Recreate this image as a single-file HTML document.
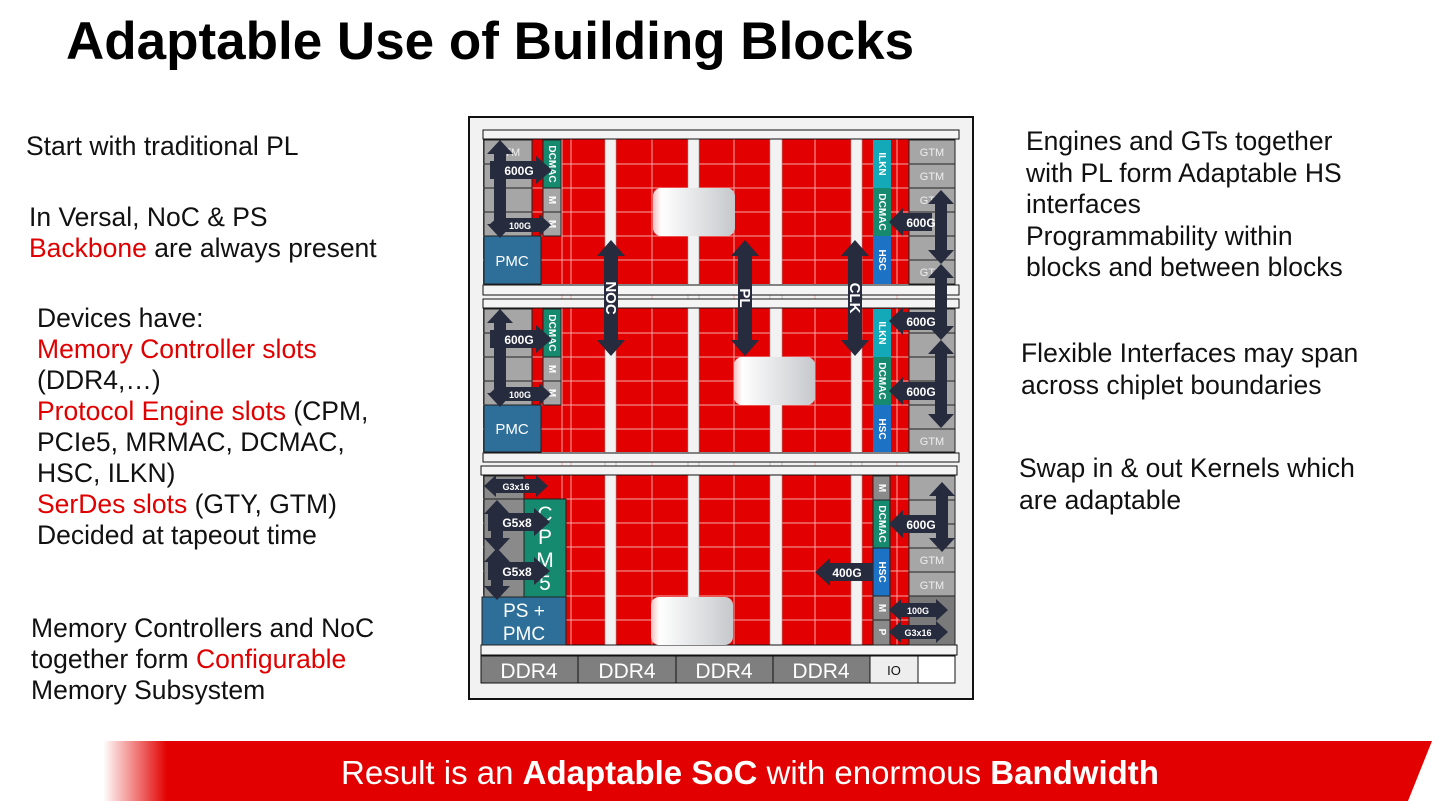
<!DOCTYPE html>
<html><head><meta charset="utf-8"><style>
body{margin:0;width:1442px;height:804px;background:#fff;position:relative;overflow:hidden;font-family:"Liberation Sans",Arial,sans-serif}
.t{position:absolute;white-space:nowrap;font-size:26.5px;color:#111;line-height:31px}
.r{color:#e00000}
h1{position:absolute;left:66px;top:10px;margin:0;font-size:53px;font-weight:bold;color:#000;line-height:64px}
</style></head><body>
<h1>Adaptable Use of Building Blocks</h1>
<div class="t" style="left:26px;top:131px">Start with traditional PL</div>
<div class="t" style="left:29px;top:202px">In Versal, NoC &amp; PS<br><span class="r">Backbone</span> are always present</div>
<div class="t" style="left:37px;top:303px">Devices have:<br><span class="r">Memory Controller slots</span><br>(DDR4,…)<br><span class="r">Protocol Engine slots</span> (CPM,<br>PCIe5, MRMAC, DCMAC,<br>HSC, ILKN)<br><span class="r">SerDes slots</span> (GTY, GTM)<br>Decided at tapeout time</div>
<div class="t" style="left:31px;top:613px">Memory Controllers and NoC<br>together form <span class="r">Configurable</span><br>Memory Subsystem</div>
<div class="t" style="left:1026px;top:126px;line-height:31.5px">Engines and GTs together<br>with PL form Adaptable HS<br>interfaces<br>Programmability within<br>blocks and between blocks</div>
<div class="t" style="left:1021px;top:337px;line-height:32px">Flexible Interfaces may span<br>across chiplet boundaries</div>
<div class="t" style="left:1019px;top:452px;line-height:32px">Swap in &amp; out Kernels which<br>are adaptable</div>

<svg width="1442" height="804" style="position:absolute;left:0;top:0" font-family="Liberation Sans,Arial,sans-serif">
<defs>
<linearGradient id="fade" x1="0" x2="1"><stop offset="0" stop-color="#fff"/><stop offset="1" stop-color="#e30000"/></linearGradient>
<linearGradient id="blur" x1="0" x2="1"><stop offset="0" stop-color="#f3c0c0"/><stop offset="0.1" stop-color="#ffffff"/><stop offset="1" stop-color="#c5c8cc"/></linearGradient>
</defs>
<polygon points="165,741 1432,741 1408,801 165,801" fill="#e30000"/>
<rect x="103" y="741" width="64" height="60" fill="url(#fade)"/>
<text x="750" y="784" fill="#fff" font-size="33" text-anchor="middle">Result is an <tspan font-weight="bold">Adaptable SoC</tspan> with enormous <tspan font-weight="bold">Bandwidth</tspan></text>

<rect x="469" y="117" width="504" height="582" fill="#f2f2f2" stroke="#111" stroke-width="2"/>
<g fill="#e30000"><rect x="483" y="139" width="472" height="145"/><rect x="483" y="308" width="472" height="144"/><rect x="483" y="475" width="472" height="170"/></g>
<g stroke="#f6a8a8" stroke-width="1">
<path d="M483 164H955M483 188H955M483 212H955M483 236H955M483 260H955"/>
<path d="M483 333H955M483 357H955M483 381H955M483 405H955M483 429H955"/>
<path d="M483 499H955M483 523H955M483 547H955M483 571H955M483 596H955M483 620H955"/>
<path d="M562 139V645M571 139V645M652 139V645M734 139V645M815 139V645M897 139V645"/>
</g>
<g fill="#f2f2f2" stroke="#999" stroke-width="0.6">
<rect x="605" y="139" width="11" height="506"/><rect x="688" y="139" width="11" height="506"/><rect x="770" y="139" width="12" height="506"/><rect x="851" y="139" width="11" height="506"/>
</g>
<g fill="#f4f4f4" stroke="#111" stroke-width="1">
<rect x="483" y="130" width="476" height="9"/><rect x="483" y="285" width="476" height="10"/>
<rect x="483" y="299" width="476" height="9"/><rect x="483" y="453" width="476" height="9"/>
<rect x="481" y="466" width="476" height="9"/><rect x="481" y="645" width="476" height="10"/>
</g>
<g fill="url(#blur)"><rect x="653" y="188" width="82" height="48" rx="8"/><rect x="734" y="357" width="81" height="48" rx="8"/><rect x="651" y="597" width="82" height="48" rx="8"/></g>

<g stroke="#222" stroke-width="1">
<g fill="#a6a6a6"><rect x="484" y="140" width="48" height="24"/><rect x="484" y="164" width="48" height="24"/><rect x="484" y="188" width="48" height="24"/><rect x="484" y="212" width="48" height="24"/>
<rect x="543" y="188" width="18" height="24"/><rect x="543" y="212" width="18" height="24"/>
<rect x="484" y="309" width="48" height="24"/><rect x="484" y="333" width="48" height="24"/><rect x="484" y="357" width="48" height="24"/><rect x="484" y="381" width="48" height="24"/>
<rect x="543" y="357" width="18" height="24"/><rect x="543" y="381" width="18" height="24"/></g>
<g fill="#158a6e"><rect x="543" y="140" width="18" height="48"/><rect x="543" y="309" width="18" height="48"/></g>
<g fill="#2e6f9a"><rect x="484" y="236" width="57" height="48"/><rect x="484" y="405" width="57" height="47"/></g>
</g>
<g fill="#fff" font-size="15" text-anchor="middle"><text x="512" y="266">PMC</text><text x="512" y="434">PMC</text></g>
<g fill="#fff" font-size="10" font-weight="bold" text-anchor="middle">
<text transform="translate(549,164) rotate(90)">DCMAC</text><text transform="translate(549,333) rotate(90)">DCMAC</text>
<text transform="translate(549,200) rotate(90)">M</text><text transform="translate(549,224) rotate(90)">M</text>
<text transform="translate(549,369) rotate(90)">M</text><text transform="translate(549,393) rotate(90)">M</text>
</g>

<g stroke="#222" stroke-width="1">
<g fill="#a6a6a6"><rect x="909" y="140" width="46" height="24"/><rect x="909" y="164" width="46" height="24"/><rect x="909" y="188" width="46" height="24"/><rect x="909" y="212" width="46" height="24"/><rect x="909" y="236" width="46" height="24"/><rect x="909" y="260" width="46" height="24"/>
<rect x="909" y="309" width="46" height="24"/><rect x="909" y="333" width="46" height="24"/><rect x="909" y="357" width="46" height="24"/><rect x="909" y="381" width="46" height="24"/><rect x="909" y="405" width="46" height="24"/><rect x="909" y="429" width="46" height="23"/></g>
</g>
<g fill="#14a9b8"><rect x="873" y="140" width="18" height="48"/><rect x="873" y="309" width="18" height="48"/></g>
<g fill="#158a6e"><rect x="873" y="188" width="18" height="48"/><rect x="873" y="357" width="18" height="48"/></g>
<g fill="#1c72c4"><rect x="873" y="236" width="18" height="48"/><rect x="873" y="405" width="18" height="47"/></g>
<g fill="#fff" font-size="10" font-weight="bold" text-anchor="middle">
<text transform="translate(879,164) rotate(90)">ILKN</text><text transform="translate(879,212) rotate(90)">DCMAC</text><text transform="translate(879,260) rotate(90)">HSC</text>
<text transform="translate(879,333) rotate(90)">ILKN</text><text transform="translate(879,381) rotate(90)">DCMAC</text><text transform="translate(879,429) rotate(90)">HSC</text>
</g>
<g fill="#eee" font-size="11" text-anchor="middle"><text x="932" y="156">GTM</text><text x="932" y="180">GTM</text><text x="932" y="204">GTM</text><text x="932" y="276">GTM</text><text x="932" y="445">GTM</text><text x="508" y="156">GTM</text></g>

<g stroke="#222" stroke-width="1">
<rect x="484" y="476" width="40" height="23" fill="#8a8a8a"/>
<rect x="484" y="499" width="40" height="98" fill="#8a8a8a"/>
<rect x="524" y="499" width="42" height="98" fill="#158a6e"/>
<rect x="482" y="597" width="84" height="48" fill="#2e6f9a"/>
</g>
<g fill="#fff" font-size="21" text-anchor="middle"><text x="545" y="521">C</text><text x="545" y="544">P</text><text x="545" y="567">M</text><text x="545" y="590">5</text></g>
<g fill="#fff" font-size="19" text-anchor="middle"><text x="524" y="617">PS +</text><text x="524" y="640">PMC</text></g>

<g stroke="#222" stroke-width="1">
<rect x="873" y="476" width="17" height="24" fill="#8a8a8a"/>
<rect x="873" y="500" width="17" height="48" fill="#158a6e"/>
<rect x="873" y="548" width="17" height="48" fill="#1c72c4"/>
<rect x="873" y="596" width="17" height="24" fill="#8a8a8a"/>
<rect x="873" y="620" width="17" height="25" fill="#8a8a8a"/>
<g fill="#a6a6a6"><rect x="909" y="476" width="46" height="24"/><rect x="909" y="500" width="46" height="24"/><rect x="909" y="524" width="46" height="24"/><rect x="909" y="548" width="46" height="24"/><rect x="909" y="572" width="46" height="24"/></g>
<rect x="909" y="596" width="46" height="49" fill="#7a7a7a"/>
</g>
<g fill="#fff" font-size="10" font-weight="bold" text-anchor="middle">
<text transform="translate(879,488) rotate(90)">M</text><text transform="translate(879,524) rotate(90)">DCMAC</text><text transform="translate(879,572) rotate(90)">HSC</text><text transform="translate(879,608) rotate(90)">M</text><text transform="translate(879,632) rotate(90)">P</text>
</g>
<g fill="#eee" font-size="11" text-anchor="middle"><text x="932" y="564">GTM</text><text x="932" y="589">GTM</text></g>

<g stroke="#111" stroke-width="1">
<rect x="481" y="656" width="97" height="27" fill="#7f7f7f"/><rect x="578" y="656" width="98" height="27" fill="#7f7f7f"/><rect x="676" y="656" width="97" height="27" fill="#7f7f7f"/><rect x="773" y="656" width="97" height="27" fill="#7f7f7f"/>
<rect x="870" y="656" width="48" height="27" fill="#eee"/><rect x="918" y="656" width="37" height="27" fill="#fff"/>
</g>
<g fill="#fff" font-size="21" text-anchor="middle"><text x="529" y="678">DDR4</text><text x="627" y="678">DDR4</text><text x="724" y="678">DDR4</text><text x="821" y="678">DDR4</text></g>
<text x="894" y="675" font-size="13" text-anchor="middle" fill="#111">IO</text>

<g fill="#262b3d">
<polygon points="500,140 513,154 506,154 506,224 513,224 500,238 487,224 494,224 494,154 487,154"/>
<polygon points="490,161 536,161 536,156 552,170 536,184 536,179 490,179"/>
<polygon points="489,225 501,214 501,218 539,218 539,214 551,225 539,236 539,232 501,232 501,236"/>
<polygon points="500,309 513,323 506,323 506,393 513,393 500,407 487,393 494,393 494,323 487,323"/>
<polygon points="490,330 536,330 536,325 552,339 536,353 536,348 490,348"/>
<polygon points="489,394 501,383 501,387 539,387 539,383 551,394 539,405 539,401 501,401 501,405"/>
<polygon points="611,240 625,256 618,256 618,340 625,340 611,356 597,340 604,340 604,256 597,256"/>
<polygon points="745,240 759,256 752,256 752,340 759,340 745,356 731,340 738,340 738,256 731,256"/>
<polygon points="855,240 869,256 862,256 862,340 869,340 855,356 841,340 848,340 848,256 841,256"/>
<polygon points="889,222 903,208 903,213 932,213 932,231 903,231 903,236"/>
<polygon points="889,321 903,307 903,312 938,312 938,330 903,330 903,335"/>
<polygon points="889,391 903,377 903,382 938,382 938,400 903,400 903,405"/>
<polygon points="941,190 954,204 947,204 947,250 954,250 941,264 928,250 935,250 935,204 928,204"/>
<polygon points="941,264 954,278 947,278 947,326 954,326 941,340 928,326 935,326 935,278 928,278"/>
<polygon points="941,340 954,354 947,354 947,414 954,414 941,428 928,414 935,414 935,354 928,354"/>
<polygon points="484,486 496,475 496,479 536,479 536,475 548,486 536,497 536,493 496,493 496,497"/>
<polygon points="497,500 510,514 503,514 503,538 510,538 497,552 484,538 491,538 491,514 484,514"/>
<polygon points="497,548 510,562 503,562 503,586 510,586 497,600 484,586 491,586 491,562 484,562"/>
<polygon points="488,513 534,513 534,508 550,522 534,536 534,531 488,531"/>
<polygon points="488,562 534,562 534,557 550,571 534,585 534,580 488,580"/>
<polygon points="942,482 955,496 948,496 948,538 955,538 942,552 929,538 936,538 936,496 929,496"/>
<polygon points="889,524 903,510 903,515 936,515 936,533 903,533 903,538"/>
<polygon points="815,572 830,558 830,563 873,563 873,581 830,581 830,586"/>
<polygon points="889,610 901,599 901,603 936,603 936,599 948,610 936,621 936,617 901,617 901,621"/>
<polygon points="889,632 901,621 901,625 936,625 936,621 948,632 936,643 936,639 901,639 901,643"/>
</g>
<g fill="#fff" font-weight="bold" text-anchor="middle">
<text x="519" y="175" font-size="12">600G</text><text x="519" y="344" font-size="12">600G</text>
<text x="520" y="229" font-size="9">100G</text><text x="520" y="398" font-size="9">100G</text>
<text x="921" y="227" font-size="12">600G</text><text x="921" y="326" font-size="12">600G</text><text x="921" y="396" font-size="12">600G</text>
<text x="516" y="490" font-size="9">G3x16</text>
<text x="517" y="527" font-size="12">G5x8</text><text x="517" y="576" font-size="12">G5x8</text>
<text x="921" y="529" font-size="12">600G</text><text x="847" y="577" font-size="12">400G</text>
<text x="918" y="614" font-size="9">100G</text><text x="918" y="636" font-size="9">G3x16</text>
<text transform="translate(611,298) rotate(90)" font-size="15" y="5">NOC</text>
<text transform="translate(745,298) rotate(90)" font-size="15" y="5">PL</text>
<text transform="translate(855,298) rotate(90)" font-size="15" y="5">CLK</text>
</g>
</svg>
</body></html>
